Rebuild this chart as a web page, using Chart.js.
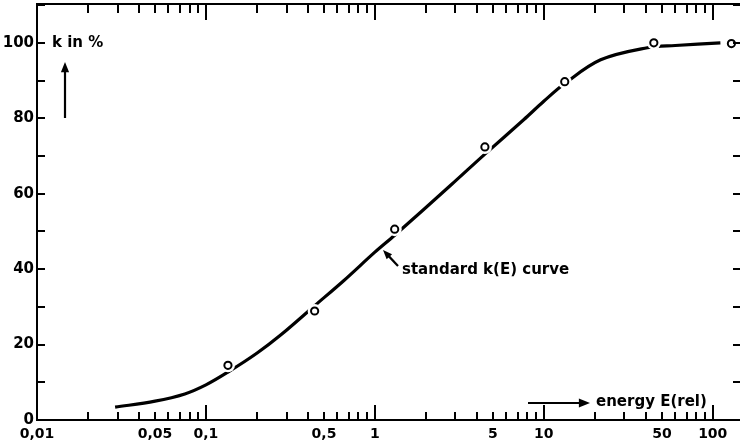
<!DOCTYPE html>
<html>
<head>
<meta charset="utf-8">
<script src="https://cdn.jsdelivr.net/npm/chart.js@4.4.1/dist/chart.umd.min.js"></script>
<style>
  html, body { margin: 0; padding: 0; background: #fff; }
  #wrap { width: 740px; height: 448px; }
</style>
</head>
<body>
<div id="wrap"><canvas id="kChart" width="740" height="448"></canvas></div>
<script>
// measured points (open circles)
const measE = [0.135, 0.44, 1.31, 4.48, 13.3, 44.8, 129];
const measK = [14.5, 28.9, 50.6, 72.4, 89.7, 100, 99.8];

// standard k(E) curve
const curveE = [0.029, 0.05, 0.075, 0.1, 0.135, 0.2, 0.278, 0.44, 0.656, 1, 1.31, 2.82, 4.48, 7.6, 10, 13.3, 21.7, 41, 60, 111];
const curveK = [3.4, 5.0, 6.9, 9.3, 12.7, 17.7, 22.6, 30.3, 37, 44.5, 49, 62.3, 70.5, 79.6, 84.5, 89.2, 95.5, 98.7, 99.3, 100];

// axis labels
const xTickVals = [0.01, 0.05, 0.1, 0.5, 1, 5, 10, 50, 100];
const xTickText = ['0,01', '0,05', '0,1', '0,5', '1', '5', '10', '50', '100'];
const yTickVals = [0, 20, 40, 60, 80, 100];

const X_MIN = 0.01, X_MAX = 145;
const Y_MIN = 0, Y_MAX = 110.3;

const toXY = (xs, ys) => xs.map((x, i) => ({ x: x, y: ys[i] }));

function arrow(ctx, x1, y1, x2, y2, head) {
    const a = Math.atan2(y2 - y1, x2 - x1);
    ctx.beginPath();
    ctx.moveTo(x1, y1);
    ctx.lineTo(x2 - Math.cos(a) * head * 0.6, y2 - Math.sin(a) * head * 0.6);
    ctx.stroke();
    ctx.beginPath();
    ctx.moveTo(x2, y2);
    ctx.lineTo(x2 - head * Math.cos(a - 0.38), y2 - head * Math.sin(a - 0.38));
    ctx.lineTo(x2 - head * Math.cos(a + 0.38), y2 - head * Math.sin(a + 0.38));
    ctx.closePath();
    ctx.fill();
}

// no extra room for the first/last labels
function noPad(scale) {
    scale.paddingLeft = 0;
    scale.paddingRight = 0;
    scale.paddingTop = 0;
    scale.paddingBottom = 0;
}

// frame, inward ticks and the text notes
const framePlugin = {
    id: 'frame',
    afterDraw(chart) {
        const ctx = chart.ctx;
        const { left, right, top, bottom } = chart.chartArea;
        const xs = chart.scales.x, ys = chart.scales.y;
        ctx.save();
        ctx.strokeStyle = '#000';
        ctx.fillStyle = '#000';
        ctx.lineWidth = 2;
        ctx.lineCap = 'butt';

        ctx.beginPath();
        ctx.moveTo(left, top);
        ctx.lineTo(right, top);
        ctx.moveTo(left, top - 1);
        ctx.lineTo(left, bottom + 1);
        ctx.moveTo(left - 1, bottom);
        ctx.lineTo(right, bottom);
        ctx.stroke();

        // log ticks on bottom and top
        ctx.beginPath();
        for (let d = X_MIN; d < X_MAX; d *= 10) {
            for (let m = 1; m <= 9; m++) {
                const v = +(m * d).toPrecision(3);
                if (v <= X_MIN || v > X_MAX) continue;
                const px = Math.round(xs.getPixelForValue(v));
                const len = m === 1 ? 15 : 8;
                ctx.moveTo(px, bottom);
                ctx.lineTo(px, bottom - len);
                ctx.moveTo(px, top);
                ctx.lineTo(px, top + len + 1);
            }
        }
        // every 10 % on left and right
        for (let v = 10; v <= 110; v += 10) {
            const py = Math.round(ys.getPixelForValue(v));
            ctx.moveTo(left, py);
            ctx.lineTo(left + 8, py);
            ctx.moveTo(right, py);
            ctx.lineTo(right - 7, py);
        }
        ctx.stroke();

        // notes
        ctx.font = 'bold 15px "DejaVu Sans"';
        ctx.textBaseline = 'middle';
        ctx.textAlign = 'left';
        ctx.fillText('k in %', 52, 43);
        ctx.fillText('standard k(E) curve', 402, 270);
        ctx.fillText('energy E(rel)', 596, 402);

        ctx.lineWidth = 2.2;
        arrow(ctx, 65, 118, 65, 62, 11);
        arrow(ctx, 398, 266, 383, 250, 10);
        arrow(ctx, 528, 403, 590, 403, 12);
        ctx.restore();
    }
};

new Chart(document.getElementById('kChart').getContext('2d'), {
    type: 'scatter',
    data: {
        datasets: [
            {
                label: 'measured',
                data: toXY(measE, measK),
                pointRadius: 3.6,
                pointBorderWidth: 2,
                pointBorderColor: '#000',
                pointBackgroundColor: '#fff',
                order: 0
            },
            {
                label: 'gap',
                data: toXY(measE, measK),
                pointRadius: 7,
                pointBorderWidth: 0,
                pointBackgroundColor: '#fff',
                order: 1
            },
            {
                label: 'standard k(E) curve',
                data: toXY(curveE, curveK),
                showLine: true,
                borderColor: '#000',
                borderWidth: 3.2,
                pointRadius: 0,
                tension: 0.35,
                order: 2
            }
        ]
    },
    options: {
        responsive: false,
        animation: false,
        maintainAspectRatio: false,
        clip: false,
        layout: { autoPadding: false, padding: { top: 4, right: 0, bottom: 0, left: 0 } },
        plugins: {
            legend: { display: false },
            tooltip: { enabled: false }
        },
        scales: {
            x: {
                type: 'logarithmic',
                min: X_MIN,
                max: X_MAX,
                grid: { display: false, drawTicks: false },
                border: { display: false },
                afterBuildTicks: (scale) => {
                    scale.ticks = xTickVals.map(v => ({ value: v }));
                },
                afterFit: (scale) => { scale.height = 28; noPad(scale); },
                ticks: {
                    autoSkip: false,
                    maxRotation: 0,
                    padding: 6,
                    color: '#000',
                    font: { family: 'DejaVu Sans', size: 14, weight: 'bold' },
                    callback: (v) => {
                        const i = xTickVals.indexOf(v);
                        return i >= 0 ? xTickText[i] : '';
                    }
                }
            },
            y: {
                min: Y_MIN,
                max: Y_MAX,
                grid: { display: false, drawTicks: false },
                border: { display: false },
                afterBuildTicks: (scale) => {
                    scale.ticks = yTickVals.map(v => ({ value: v }));
                },
                afterFit: (scale) => { scale.width = 37; noPad(scale); },
                ticks: {
                    padding: 3,
                    color: '#000',
                    font: { family: 'DejaVu Sans', size: 15, weight: 'bold' }
                }
            }
        }
    },
    plugins: [framePlugin]
});
</script>
</body>
</html>
